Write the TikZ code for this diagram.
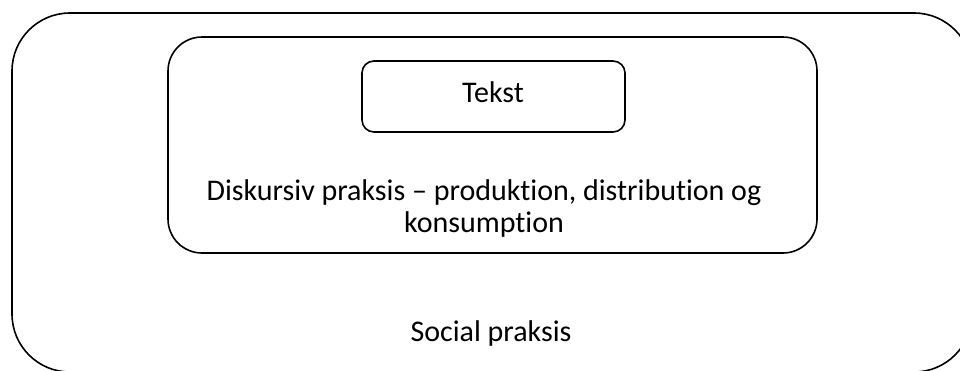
\documentclass[tikz,border=0pt]{standalone}
\usepackage{fontspec}
\setmainfont{Carlito}[RawFeature=-liga]
\begin{document}
\begin{tikzpicture}[x=1pt,y=-1pt,
    frame/.style={draw,line width=1.6pt,rounded corners=#1},
    caption/.style={anchor=base,inner sep=0pt,align=center,
      font=\fontsize{30}{32}\selectfont}]
  \useasboundingbox (0,0) rectangle (960,370);
  \clip (0,0) rectangle (960,370);
  % nested levels, outer one runs off the page
  \draw[frame=58pt] (12,13) rectangle (972,372);
  \draw[frame=34pt] (168,37) rectangle (817,253);
  \draw[frame=12pt] (362,61) rectangle (625,132);
  % texts (base = last line)
  \node[caption] (tekst) at (493,102) {Tekst};
  \node[caption] (diskursiv) at (484,232)
    {Diskursiv praksis -- produktion, distribution og\\konsumption};
  \node[caption] (social) at (491,341) {Social praksis};
\end{tikzpicture}
\end{document}
